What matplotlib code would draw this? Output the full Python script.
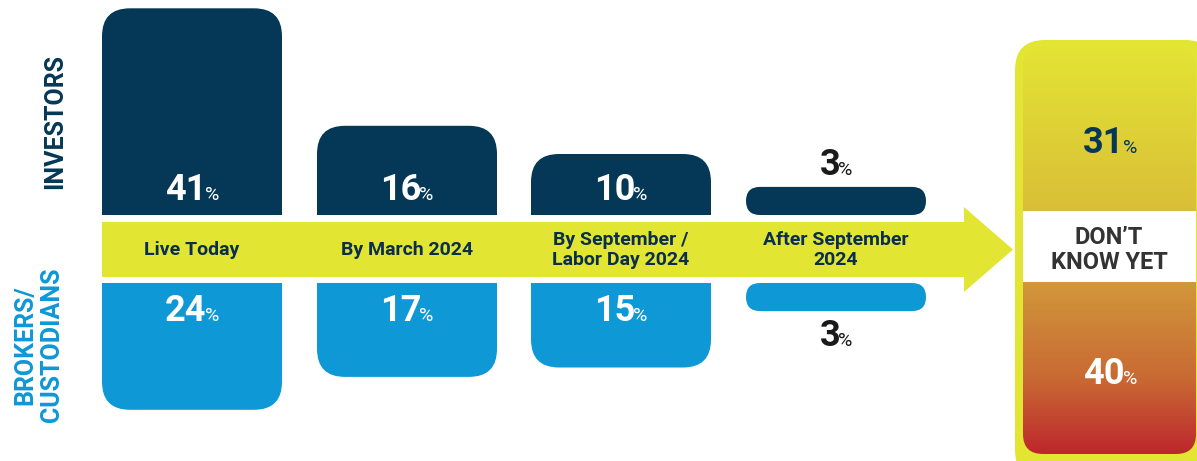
import numpy as np
import matplotlib
matplotlib.use('Agg')
import matplotlib.pyplot as plt
from matplotlib import font_manager
from matplotlib.patches import FancyBboxPatch, Rectangle, Polygon

# survey answers: when will the setup be live
categories = ['Live Today', 'By March 2024', 'By September /\nLabor Day 2024', 'After September\n2024']
investors = [41, 16, 10, 3]
brokers = [24, 17, 15, 3]
unsure_label = 'DON\u2019T\nKNOW YET'
investors_unsure = 31
brokers_unsure = 40

NAVY = '#053856'
BLUE = '#0e98d5'
LIME = '#e2e532'
INK = '#0a2e4d'

names = {f.name for f in font_manager.fontManager.ttflist}
FONT = next((n for n in ['Liberation Sans Narrow', 'Roboto', 'DejaVu Sans'] if n in names), 'DejaVu Sans')
plt.rcParams['font.family'] = [FONT, 'DejaVu Sans']

W, H = 1197, 461
fig = plt.figure(figsize=(W / 100, H / 100), dpi=100)
ax = fig.add_axes([0, 0, 1, 1])
ax.set_xlim(0, W)
ax.set_ylim(H, 0)
ax.axis('off')

# layout (pixel units, y grows downwards)
col_x = np.array([192, 407, 621, 836])
bar_w = 180
inv_base, brk_base = 215, 283
pad, k = 14, 4.7      # bar length = pad + k * value
radius = 28

renderer = fig.canvas.get_renderer()


def pct_label(cx, y, value, color):
    num = ax.text(cx, y, str(value), fontsize=26, fontweight='bold', color=color,
                  ha='left', va='baseline', zorder=4)
    pct = ax.text(cx, y, '%', fontsize=14, color=color, ha='left', va='baseline', zorder=4)
    w1 = num.get_window_extent(renderer).width
    w2 = pct.get_window_extent(renderer).width
    x0 = cx - (w1 + w2 - 2) / 2
    num.set_x(x0)
    pct.set_x(x0 + w1 - 2)


def draw_bar(cx, base, value, color, up):
    h = pad + k * value
    y0 = base - h if up else base
    r = min(radius, h / 2)
    ax.add_patch(FancyBboxPatch((cx - bar_w / 2, y0), bar_w, h,
                                boxstyle=f'round,pad=0,rounding_size={r}',
                                fc=color, ec='none'))
    if h > 2 * radius:
        # square off the corners on the band side
        ys = base - radius if up else base
        ax.add_patch(Rectangle((cx - bar_w / 2, ys), bar_w, radius, fc=color, ec='none'))
    return h


for cx, v in zip(col_x, investors):
    h = draw_bar(cx, inv_base, v, NAVY, up=True)
    if h > 45:
        pct_label(cx, inv_base - 15, v, 'white')
    else:
        pct_label(cx, inv_base - h - 12, v, '#1a1a1a')

for cx, v in zip(col_x, brokers):
    h = draw_bar(cx, brk_base, v, BLUE, up=False)
    if h > 45:
        pct_label(cx, brk_base + 38, v, 'white')
    else:
        pct_label(cx, brk_base + h + 35, v, '#1a1a1a')

# timeline arrow
band_top, band_bot = 222, 277
ax.add_patch(Polygon([(102, band_top), (964, band_top), (964, 207), (1013, 249.5),
                      (964, 292), (964, band_bot), (102, band_bot)],
                     closed=True, fc=LIME, ec='none'))
for cx, lab in zip(col_x, categories):
    ax.text(cx, 250, lab, fontsize=14, fontweight='bold', color=INK,
            ha='center', va='center', linespacing=1.1)

# side labels
ax.text(55, 121, 'INVESTORS', rotation=90, fontsize=18, fontweight='bold',
        color=NAVY, ha='center', va='center')
ax.text(39, 345, 'BROKERS/\nCUSTODIANS', rotation=90, fontsize=18, fontweight='bold',
        color=BLUE, ha='center', va='center', multialignment='center', linespacing=1.15)

# "don't know yet" box
ax.add_patch(FancyBboxPatch((1015, 40), 200, 440, boxstyle='round,pad=0,rounding_size=30',
                            fc=LIME, ec='none'))
inner = FancyBboxPatch((1023, 47), 173, 407, boxstyle='round,pad=0,rounding_size=20',
                       fc='none', ec='none')
ax.add_patch(inner)
rows = np.arange(47, 455)
stops_y = [47, 205, 282, 380, 454]
stops_c = np.array([[227, 228, 52], [218, 192, 55], [210, 152, 58], [200, 105, 52], [190, 38, 45]]) / 255
grad = np.stack([np.interp(rows, stops_y, stops_c[:, i]) for i in range(3)], axis=-1)[:, None, :]
img = ax.imshow(grad, extent=(1023, 1196, 454, 47), aspect='auto', origin='upper',
                interpolation='bilinear', zorder=1)
img.set_clip_path(inner)
ax.add_patch(Rectangle((1023, 211), 173, 71, fc='white', ec='none', zorder=2))
ax.text(1109, 250, unsure_label, fontsize=17, fontweight='bold', color='#333333',
        ha='center', va='center', linespacing=1.1, zorder=3)
pct_label(1110, 153, investors_unsure, NAVY)
pct_label(1110, 384, brokers_unsure, 'white')

ax.set_xlim(0, W)
ax.set_ylim(H, 0)
fig.savefig('out.png', dpi=100)
